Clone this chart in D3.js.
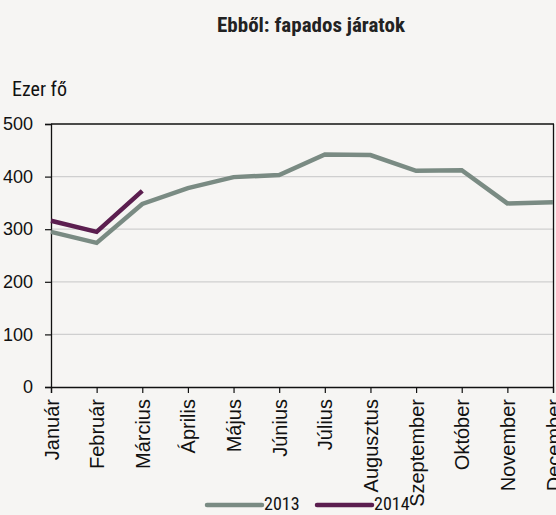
<!DOCTYPE html>
<html><head><meta charset="utf-8">
<script src="https://cdn.jsdelivr.net/npm/d3@7"></script>
<style>
html,body{margin:0;padding:0;background:#f6f5f3;}
text{font-family:"Liberation Sans Narrow","Arial Narrow","Roboto Condensed",sans-serif;}
</style></head>
<body><svg id="c" width="556" height="515"></svg>
<script>
const months = ["Január","Február","Március","Április","Május","Június","Július","Augusztus","Szeptember","Október","November","December"];
const values2013 = [295,274,348,378,399,403,442,441,411,412,349,351];
const values2014 = [316,295,373];
const yTicks = [0,100,200,300,400,500];
const seriesNames = ["2013","2014"];
const colors = ["#7a8b83","#5b1e4f"];

const svg = d3.select("#c");
svg.append("rect").attr("width",556).attr("height",515).attr("fill","#f6f5f3");
const L=51, R=553, T=124, B=387;
const x = d3.scalePoint().domain(months).range([L,R]);
const y = d3.scaleLinear().domain([0,500]).range([B,T]);

// gridlines
svg.append("g").selectAll("line").data(yTicks.filter(d=>d>0&&d<500)).join("line")
  .attr("x1",L).attr("x2",R).attr("y1",d=>y(d)).attr("y2",d=>y(d))
  .attr("stroke","#cfcfcf").attr("stroke-width",1.2);
// top and right border
svg.append("line").attr("x1",L).attr("x2",R+1).attr("y1",y(500)).attr("y2",y(500)).attr("stroke","#111").attr("stroke-width",1.3);
svg.append("line").attr("x1",R+0.5).attr("x2",R+0.5).attr("y1",T).attr("y2",B).attr("stroke","#111").attr("stroke-width",1.3);

// y axis
const ya = svg.append("g").attr("transform",`translate(${L},0)`)
  .call(d3.axisLeft(y).tickValues(yTicks).tickSize(6).tickPadding(12));
ya.select(".domain").attr("stroke","#111").attr("stroke-width",1.3);
ya.selectAll(".tick line").attr("stroke","#111").attr("stroke-width",1.2);
ya.selectAll("text").attr("font-size",18).attr("fill","#111")
  .style("font-family",'"Liberation Sans Narrow","Arial Narrow",sans-serif');

// x axis
const xa = svg.append("g").attr("transform",`translate(0,${B})`)
  .call(d3.axisBottom(x).tickSize(6).tickPadding(0));
xa.select(".domain").attr("stroke","#111").attr("stroke-width",1.3);
xa.selectAll(".tick line").attr("stroke","#111").attr("stroke-width",1.2);
xa.selectAll("text").attr("font-size",20).attr("fill","#111")
  .attr("transform","rotate(-90)").attr("text-anchor","end")
  .attr("x",-12).attr("y",0).attr("dy","0.35em")
  .style("font-family",'"Liberation Sans Narrow","Arial Narrow",sans-serif');

// lines
const line = d3.line().x((d,i)=>x(months[i])).y(d=>y(d));
[values2013, values2014].forEach((vals,k)=>{
  svg.append("path").datum(vals).attr("d",line).attr("fill","none")
    .attr("stroke",colors[k]).attr("stroke-width",4.5).attr("stroke-linejoin","miter").attr("stroke-linecap","butt");
});

// title
svg.append("text").attr("x",311).attr("y",32).attr("text-anchor","middle")
  .attr("font-size",21).attr("font-weight","bold").attr("fill","#222").text("Ebből: fapados járatok");
// unit
svg.append("text").attr("x",12).attr("y",96).attr("font-size",20).attr("fill","#111").text("Ezer fő");

// legend
const lg = [{x:207},{x:317}];
seriesNames.forEach((n,k)=>{
  const g = svg.append("g");
  g.append("line").attr("x1",lg[k].x).attr("x2",lg[k].x+55).attr("y1",505).attr("y2",505)
    .attr("stroke",colors[k]).attr("stroke-width",4.5).attr("stroke-linecap","round");
  g.append("text").attr("x",lg[k].x+57).attr("y",510).attr("font-size",18).attr("fill","#111").text(n);
});
</script></body></html>
